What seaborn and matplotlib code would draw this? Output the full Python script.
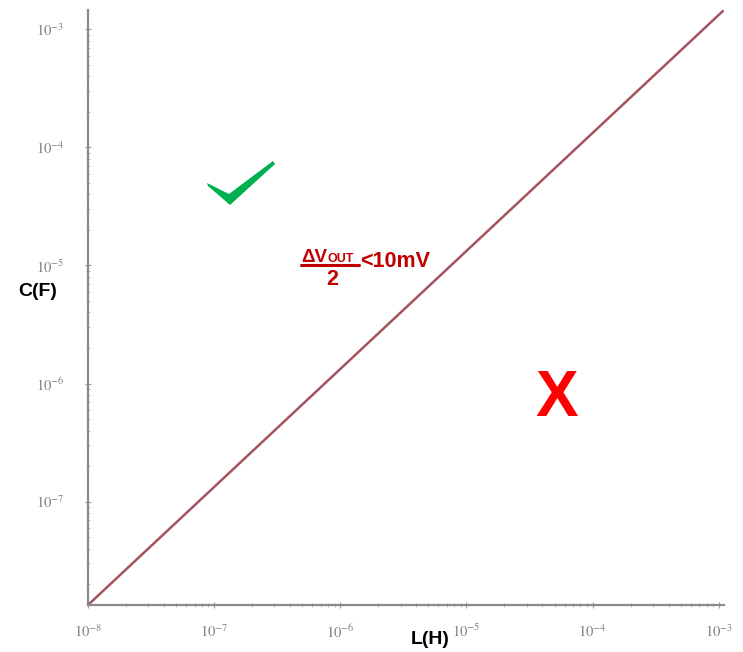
import matplotlib.pyplot as plt
import matplotlib.ticker as mticker
from matplotlib.patches import Polygon
import seaborn as sns
import numpy as np
import pandas as pd

# Set the style for the plot
sns.set_style('white')
plt.rcParams['font.family'] = ['Liberation Sans', 'DejaVu Sans']
plt.rcParams['mathtext.fontset'] = 'stix'

# Boundary line: C = ~1.33 * L
inductance = [1e-8, 1.1e-3]
capacitance = [1.33e-8, 1.46e-3]
x_ticks = [1e-8, 1e-7, 1e-6, 1e-5, 1e-4, 1e-3]
y_ticks = [1e-7, 1e-6, 1e-5, 1e-4, 1e-3]

df = pd.DataFrame({'L': inductance, 'C': capacitance})

fig = plt.figure(figsize=(7.43, 6.52), dpi=100)
ax = fig.add_axes([88 / 743, 1 - 605 / 652, (724 - 88) / 743, (605 - 10) / 652])

sns.lineplot(data=df, x='L', y='C', ax=ax, color='#a4545f', linewidth=1.8)
ax.set_xscale('log')
ax.set_yscale('log')
ax.set_xlim(inductance[0], inductance[1])
ax.set_ylim(capacitance[0], capacitance[1])
ax.set_xticks(x_ticks)
ax.set_yticks(y_ticks)


def power_label(value, pos):
    # Serif "10^n" labels (stix, not the default sans font)
    return r'$10^{%d}$' % int(round(np.log10(value)))


ax.xaxis.set_major_formatter(mticker.FuncFormatter(power_label))
ax.yaxis.set_major_formatter(mticker.FuncFormatter(power_label))
ax.xaxis.set_minor_formatter(mticker.NullFormatter())
ax.yaxis.set_minor_formatter(mticker.NullFormatter())
ax.set_xlabel('')
ax.set_ylabel('')

# Axis styling: only left and bottom spines, gray
for side in ['top', 'right']:
    ax.spines[side].set_visible(False)
for side in ['left', 'bottom']:
    ax.spines[side].set_color('#8a8a8a')
    ax.spines[side].set_linewidth(1.6)
ax.tick_params(axis='both', which='major', direction='inout', length=4, width=0.8,
               colors='#9a9a9a', labelcolor='#808080', labelsize=10.5)
ax.tick_params(axis='x', which='major', pad=11)
ax.tick_params(axis='y', which='major', pad=15)
ax.tick_params(axis='both', which='minor', direction='inout', length=2.5, width=0.6, colors='#b0b0b0')
ax.tick_params(bottom=True, left=True, which='both')

# Axis titles
fig.text(38 / 743, 1 - 291 / 652, 'C(F)', fontsize=14, fontweight='bold', color='black',
         ha='center', va='center')
fig.text(430 / 743, 1 - 640 / 652, 'L(H)', fontsize=14, fontweight='bold', color='black',
         ha='center', va='center')

# Ripple condition label
red = '#c00000'
fig.text(301 / 743, 1 - 262 / 652, '\u0394V', fontsize=13.5, fontweight='bold', color=red,
         ha='left', va='baseline')
fig.text(327 / 743, 1 - 262 / 652, 'OUT', fontsize=9, fontweight='bold', color=red,
         ha='left', va='baseline')
fig.add_artist(plt.Line2D([301 / 743, 359 / 743], [1 - 265.5 / 652, 1 - 265.5 / 652],
                          transform=fig.transFigure, color=red, linewidth=2.2))
fig.text(332 / 743, 1 - 285 / 652, '2', fontsize=15.5, fontweight='bold', color=red,
         ha='center', va='baseline')
fig.text(360 / 743, 1 - 267 / 652, '<10mV', fontsize=15.5, fontweight='bold', color=red,
         ha='left', va='baseline')

# Green check (valid region) and red cross (invalid region)
check_px = [(207, 183), (229, 194), (273, 161), (275, 164), (230, 205), (208, 186)]
check = Polygon([((px - 88) / 636, (605 - py) / 595) for px, py in check_px],
                closed=True, transform=ax.transAxes, facecolor='#00b050', edgecolor='none')
ax.add_patch(check)
fig.text(557 / 743, 1 - 399 / 652, 'X', fontsize=46, fontweight='bold', color='#ff0000',
         ha='center', va='center')

plt.savefig('out.png', dpi=100)
